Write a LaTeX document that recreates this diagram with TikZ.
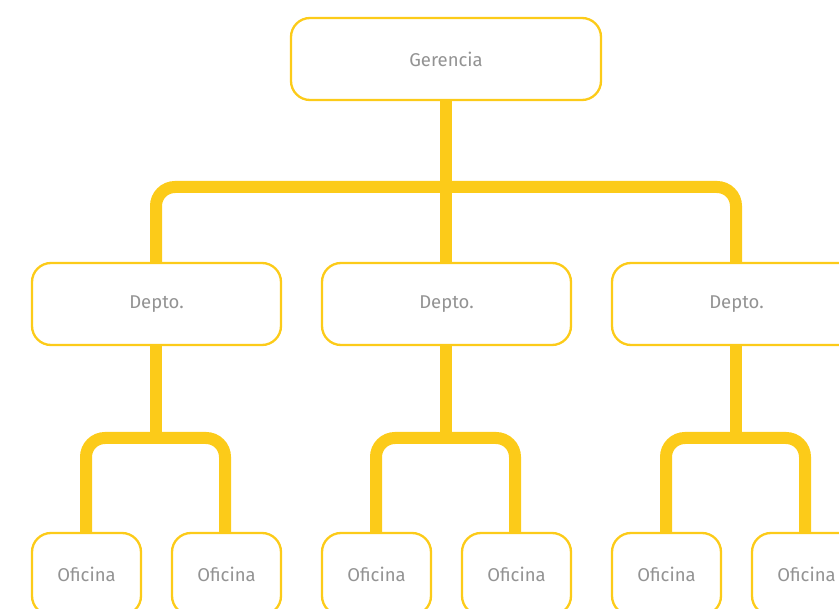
\documentclass[tikz,border=0pt]{standalone}
\usepackage{fontspec}
\setmainfont{Fira Sans}
\usetikzlibrary{backgrounds}
\definecolor{orgyellow}{HTML}{FCCB19}
\definecolor{orgtext}{HTML}{939393}
\tikzset{
  unitbox/.style={draw=orgyellow, line width=2.3pt, fill=white, rounded corners=19pt,
    minimum height=82pt, inner sep=0pt, text=orgtext,
    font=\fontsize{18.5}{22}\selectfont},
  bigbox/.style={unitbox, minimum width=310pt},
  deptbox/.style={unitbox, minimum width=249pt},
  officebox/.style={unitbox, minimum width=109pt},
  conn/.style={draw=orgyellow, line width=12pt, rounded corners=19pt}
}
\begin{document}
\begin{tikzpicture}[x=1pt, y=1pt]
  \useasboundingbox (0,0) rectangle (839,-609);

  % top level
  \node[bigbox]    (g)  at (446,-59)  {Gerencia};

  % departments
  \node[deptbox]   (d1) at (156.5,-304) {Depto.};
  \node[deptbox]   (d2) at (446.5,-304) {Depto.};
  \node[deptbox]   (d3) at (736.5,-304) {Depto.};

  % offices
  \node[officebox] (o11) at (86.5,-574)  {Oficina};
  \node[officebox] (o12) at (226.5,-574) {Oficina};
  \node[officebox] (o21) at (376.5,-574) {Oficina};
  \node[officebox] (o22) at (516.5,-574) {Oficina};
  \node[officebox] (o31) at (666.5,-574) {Oficina};
  \node[officebox] (o32) at (806.5,-574) {Oficina};

  % connectors behind the boxes
  \begin{scope}[on background layer]
    \coordinate (bar) at (446,-187);
    \draw[conn] ([xshift=-0.5pt]d1.north) |- (bar) -| ([xshift=-0.5pt]d3.north);
    \draw[conn] (g.south) -- (g.south |- d2.north);

    \coordinate (b1) at (156,-438);
    \coordinate (b2) at (446,-438);
    \coordinate (b3) at (736,-438);
    \draw[conn] ([xshift=-0.5pt]d1.south) -- (b1);
    \draw[conn] ([xshift=-0.5pt]o11.north) |- (b1) -| ([xshift=-1.5pt]o12.north);
    \draw[conn] ([xshift=-0.5pt]d2.south) -- (b2);
    \draw[conn] ([xshift=-0.5pt]o21.north) |- (b2) -| ([xshift=-1.5pt]o22.north);
    \draw[conn] ([xshift=-0.5pt]d3.south) -- (b3);
    \draw[conn] ([xshift=-0.5pt]o31.north) |- (b3) -| ([xshift=-1.5pt]o32.north);
  \end{scope}
\end{tikzpicture}
\end{document}
